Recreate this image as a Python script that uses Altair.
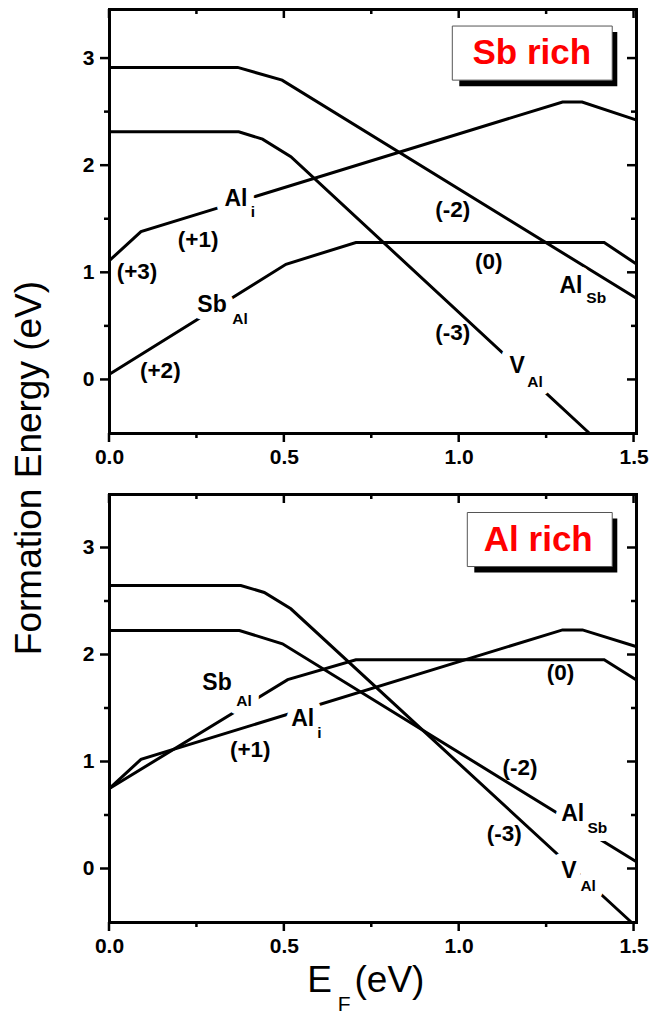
import altair as alt
import pandas as pd

FONT = "Liberation Sans, Arial, Helvetica, sans-serif"

# ---------------- data ----------------
SERIES = ["Al_Sb", "V_Al", "Al_i", "Sb_Al"]

# Sb rich panel
SB_ALSB_X = [0.0, 0.368, 0.495, 1.507]
SB_ALSB_E = [2.913, 2.913, 2.794, 0.76]
SB_VAL_X = [0.0, 0.371, 0.439, 0.520, 1.373]
SB_VAL_E = [2.311, 2.311, 2.243, 2.079, -0.5]
SB_ALI_X = [0.0, 0.0915, 1.297, 1.353, 1.507]
SB_ALI_E = [1.106, 1.38, 2.59, 2.59, 2.423]
SB_SBAL_X = [0.0, 0.506, 0.706, 1.416, 1.507]
SB_SBAL_E = [0.047, 1.075, 1.278, 1.278, 1.08]

# Al rich panel
AL_ALSB_X = [0.0, 0.373, 0.496, 1.507]
AL_ALSB_E = [2.224, 2.224, 2.10, 0.065]
AL_VAL_X = [0.0, 0.377, 0.444, 0.520, 1.493]
AL_VAL_E = [2.645, 2.645, 2.58, 2.427, -0.5]
AL_ALI_X = [0.0, 0.0915, 1.297, 1.354, 1.507]
AL_ALI_E = [0.745, 1.02, 2.23, 2.23, 2.075]
AL_SBAL_X = [0.0, 0.511, 0.706, 1.416, 1.507]
AL_SBAL_E = [0.745, 1.765, 1.95, 1.95, 1.764]

X_MAJOR = [0.0, 0.5, 1.0, 1.5]
X_MINOR = [0.25, 0.75, 1.25]
Y_MAJOR = [0, 1, 2, 3]
Y_MINOR = [0.5, 1.5, 2.5]

# curve labels: (text, x, E, kind)  kind: sp = species, sub = subscript
SB_SPECIES = [("Al", 0.330, 1.682, "sp"), ("i", 0.405, 1.565, "sub"),
              ("Sb", 0.2525, 0.692, "sp"), ("Al", 0.3526, 0.561, "sub"),
              ("Al", 1.288, 0.869, "sp"), ("Sb", 1.365, 0.757, "sub"),
              ("V", 1.145, 0.121, "sp"), ("Al", 1.196, -0.023, "sub")]
SB_CHARGES = [("(+1)", 0.255, 1.299), ("(+3)", 0.080, 1.005), ("(+2)", 0.1467, 0.075),
              ("(-2)", 0.983, 1.579), ("(0)", 1.086, 1.098), ("(-3)", 0.983, 0.430)]
AL_SPECIES = [("Sb", 0.2668, 1.729, "sp"), ("Al", 0.364, 1.570, "sub"),
              ("Al", 0.521, 1.393, "sp"), ("i", 0.5956, 1.266, "sub"),
              ("Al", 1.293, 0.505, "sp"), ("Sb", 1.368, 0.374, "sub"),
              ("V", 1.293, -0.019, "sp"), ("Al", 1.348, -0.168, "sub")]
AL_CHARGES = [("(+1)", 0.404, 1.112), ("(0)", 1.291, 1.827),
              ("(-2)", 1.175, 0.939), ("(-3)", 1.130, 0.318)]

# condition boxes: (shadow x1,x2,E1,E2), (box x1,x2,E1,E2), text, text x, text E
SB_BOX = dict(shadow=(1.0017, 1.4535, 3.243, 2.738), box=(0.9817, 1.439, 3.299, 2.794),
              text="Sb rich", tx=1.209, tE=3.045)
AL_BOX = dict(shadow=(1.0446, 1.4535, 3.271, 2.766), box=(1.0246, 1.439, 3.327, 2.822),
              text="Al rich", tx=1.2276, tE=3.070)

# ---------------- helpers ----------------
W = 527
H_TOP = 424
H_BOT = 428
MAJ = 9   # major tick length (px)
MIN = 5   # minor tick length (px)
XS = alt.Scale(domain=[0, 1.507], nice=False, zero=False, padding=0)
YS_TOP = alt.Scale(domain=[-0.5, 3.458], nice=False, zero=False, padding=0)
YS_BOT = alt.Scale(domain=[-0.5, 3.5], nice=False, zero=False, padding=0)


def lines_df(xs_list, es_list):
    rows = []
    for name, xs, es in zip(SERIES, xs_list, es_list):
        for x, e in zip(xs, es):
            rows.append({"series": name, "x": x, "E": e})
    return pd.DataFrame(rows)


def make_axis(kind, orient, labels, offset, **kw):
    if kind == "x":
        vals, fmt, pad = X_MAJOR, ".1f", 4 + MAJ
    else:
        vals, fmt, pad = Y_MAJOR, "d", 6 + MAJ
    params = dict(
        orient=orient, offset=offset, values=vals, labels=labels, ticks=False,
        format=fmt, domain=True, domainColor="black", domainWidth=3,
        domainCap="square", grid=False, labelFont=FONT,
        labelFontSize=21, labelFontWeight="bold", labelColor="black",
        labelFlush=False, labelOverlap=False, labelPadding=pad,
    )
    params.update(kw)
    if "title" not in params:
        params["title"] = None
    return alt.Axis(**params)


def tick_layers(ys, h):
    """Tick marks drawn as short bars at the tick values."""
    out = []
    for vals, ln in ((X_MAJOR, MAJ), (X_MINOR, MIN)):
        d = pd.DataFrame({"t": vals})
        base = alt.Chart(d).mark_bar(color="black", width=2.5, orient="vertical")
        out.append(base.encode(x=alt.X("t:Q", scale=XS, axis=None),
                               y=alt.value(h), y2=alt.value(h + ln)))
        out.append(base.encode(x=alt.X("t:Q", scale=XS, axis=None),
                               y=alt.value(0), y2=alt.value(ln)))
    for vals, ln in ((Y_MAJOR, MAJ), (Y_MINOR, MIN)):
        d = pd.DataFrame({"t": vals})
        base = alt.Chart(d).mark_bar(color="black", height=2.5, orient="horizontal")
        out.append(base.encode(y=alt.Y("t:Q", scale=ys, axis=None),
                               x=alt.value(-ln), x2=alt.value(0)))
        out.append(base.encode(y=alt.Y("t:Q", scale=ys, axis=None),
                               x=alt.value(W - ln), x2=alt.value(W)))
    return out


def panel(ldf, species, charges, boxinfo, ys, h, ytitle, extra=None):
    base_x = alt.X("x:Q", scale=XS, axis=None)
    base_y = alt.Y("E:Q", scale=ys, axis=None)

    if ytitle:
        yax = make_axis("y", "left", True, 0, title="Formation Energy (eV)",
                        titleFont=FONT, titleFontSize=37, titleFontWeight="normal",
                        titleColor="black", titleAngle=270, titleAlign="center",
                        titleBaseline="middle", titleX=-80, titleY=458.5)
    else:
        yax = make_axis("y", "left", True, 0)

    lines = alt.Chart(ldf).mark_line(color="black", strokeWidth=3).encode(
        x=alt.X("x:Q", scale=XS, axis=make_axis("x", "bottom", True, 0)),
        y=alt.Y("E:Q", scale=ys, axis=yax),
        detail="series:N",
    )
    mirror = alt.Chart(ldf).mark_line(opacity=0).encode(
        x=alt.X("x:Q", scale=XS, axis=make_axis("x", "bottom", False, -h)),
        y=alt.Y("E:Q", scale=ys, axis=make_axis("y", "left", False, -W)),
        detail="series:N",
    )

    sdf = pd.DataFrame(species, columns=["text", "x", "E", "kind"])
    sp = alt.Chart(sdf).encode(
        x=base_x, y=base_y, text="text:N",
        size=alt.Size("kind:O", scale=alt.Scale(domain=["sp", "sub"], range=[23, 15.5]),
                      legend=None),
    )
    halo = sp.mark_text(align="left", baseline="middle", font=FONT, fontWeight="bold",
                        color="white", stroke="white", strokeWidth=16, strokeJoin="round")
    sptext = sp.mark_text(align="left", baseline="middle", font=FONT, fontWeight="bold",
                          color="black")

    cdf = pd.DataFrame(charges, columns=["text", "x", "E"])
    qtext = alt.Chart(cdf).mark_text(align="center", baseline="middle", font=FONT,
                                     fontWeight="bold", fontSize=22.5, color="black").encode(
        x=base_x, y=base_y, text="text:N")

    def rect_df(t):
        return pd.DataFrame({"x1": [t[0]], "x2": [t[1]], "E1": [t[2]], "E2": [t[3]]})

    shadow = alt.Chart(rect_df(boxinfo["shadow"])).mark_rect(color="black").encode(
        x=alt.X("x1:Q", scale=XS, axis=None), x2="x2:Q",
        y=alt.Y("E1:Q", scale=ys, axis=None), y2="E2:Q")
    box = alt.Chart(rect_df(boxinfo["box"])).mark_rect(
        fill="white", stroke="#555555", strokeWidth=1).encode(
        x=alt.X("x1:Q", scale=XS, axis=None), x2="x2:Q",
        y=alt.Y("E1:Q", scale=ys, axis=None), y2="E2:Q")
    bt = alt.Chart(pd.DataFrame({"text": [boxinfo["text"]], "x": [boxinfo["tx"]],
                                 "E": [boxinfo["tE"]]})).mark_text(
        align="center", baseline="middle", font=FONT, fontWeight="bold",
        fontSize=35, color="#ff0000").encode(x=base_x, y=base_y, text="text:N")

    layers = [lines, mirror] + tick_layers(ys, h) + [halo, sptext, qtext, shadow, box, bt]
    if extra:
        layers += extra
    return alt.layer(*layers).resolve_axis(x="independent", y="independent").properties(
        width=W, height=h)


def title_piece(text, px, py, size, align="left"):
    return alt.Chart(pd.DataFrame({"t": [text]})).mark_text(
        align=align, baseline="alphabetic", font=FONT, fontSize=size,
        color="black").encode(x=alt.value(px), y=alt.value(py), text="t:N")


xtitle = [title_piece("E", 198.3, 498, 37),
          title_piece("F", 228.8, 517, 21),
          title_piece("(eV)", 280.5, 498, 37, align="center")]

top = panel(lines_df([SB_ALSB_X, SB_VAL_X, SB_ALI_X, SB_SBAL_X],
                     [SB_ALSB_E, SB_VAL_E, SB_ALI_E, SB_SBAL_E]),
            SB_SPECIES, SB_CHARGES, SB_BOX, YS_TOP, H_TOP, True)
bottom = panel(lines_df([AL_ALSB_X, AL_VAL_X, AL_ALI_X, AL_SBAL_X],
                        [AL_ALSB_E, AL_VAL_E, AL_ALI_E, AL_SBAL_E]),
               AL_SPECIES, AL_CHARGES, AL_BOX, YS_BOT, H_BOT, False, extra=xtitle)

chart = alt.VConcatChart(vconcat=[top, bottom], spacing=61, bounds="flush").properties(
    padding={"left": 1, "top": 0, "right": 0, "bottom": 0}
).configure_view(strokeWidth=0).configure(background="white")

chart.save("out.html", embed_options={"renderer": "svg", "actions": False})
